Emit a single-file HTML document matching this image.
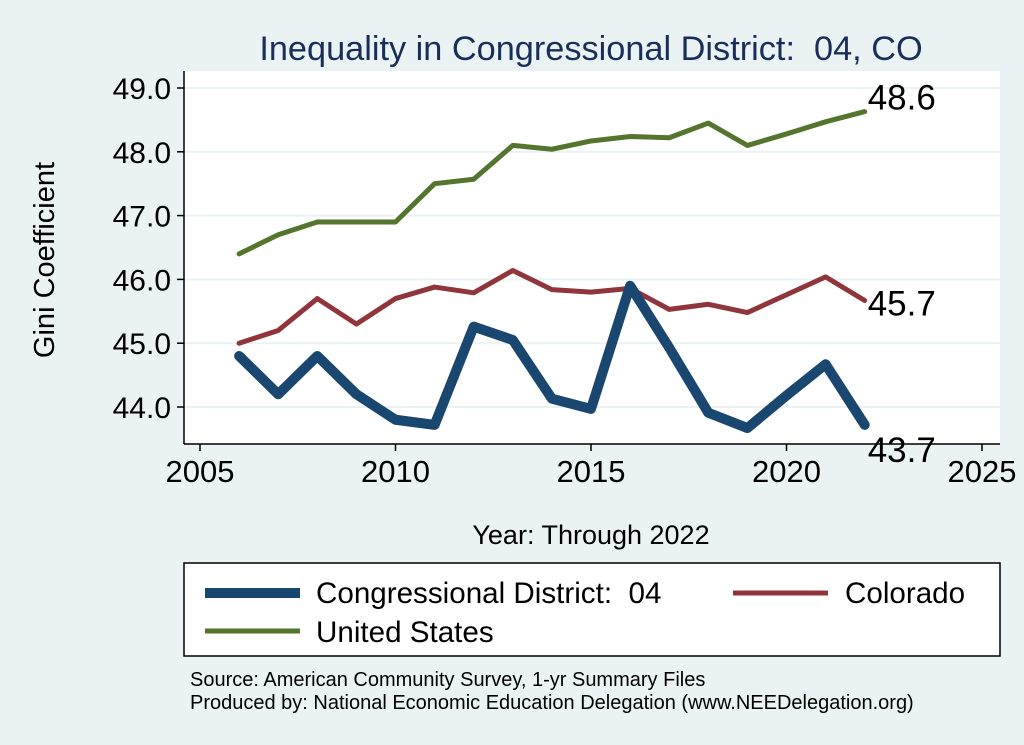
<!DOCTYPE html>
<html><head><meta charset="utf-8"><style>
body{margin:0;background:#eaf2f3;}
svg{display:block;font-family:"Liberation Sans",sans-serif;}
text{white-space:pre;}
</style></head><body>
<svg id="chart" width="1024" height="745" viewBox="0 0 1024 745">
<rect x="0" y="0" width="1024" height="745" fill="#eaf2f3"/>
<rect x="184" y="71" width="816" height="373" fill="#ffffff"/>
<text x="591" y="60" font-size="34.3" fill="#1a2e5a" text-anchor="middle">Inequality in Congressional District:  04, CO</text>
<g id="grid"></g><g id="axes"></g><g id="series"></g>
<text x="54" y="260" font-size="29" text-anchor="middle" transform="rotate(-90 54 260)">Gini Coefficient</text>
<text x="591" y="544" font-size="27" text-anchor="middle">Year: Through 2022</text>
<g>
<rect x="184" y="563" width="816" height="93" fill="#fff" stroke="#000" stroke-width="1.5"/>
<line x1="205" y1="593" x2="300" y2="593" stroke="#1a476f" stroke-width="10"/>
<text x="316" y="603" font-size="29.6">Congressional District:  04</text>
<line x1="733" y1="593" x2="828" y2="593" stroke="#90353b" stroke-width="5"/>
<text x="845" y="603" font-size="29.6">Colorado</text>
<line x1="205" y1="631" x2="300" y2="631" stroke="#55752f" stroke-width="5"/>
<text x="316" y="642" font-size="29.6">United States</text>
</g>
<text x="190" y="686" font-size="20">Source: American Community Survey, 1-yr Summary Files</text>
<text x="190" y="709" font-size="20">Produced by: National Economic Education Delegation (www.NEEDelegation.org)</text>
</svg>
<script>
const years=[2006,2007,2008,2009,2010,2011,2012,2013,2014,2015,2016,2017,2018,2019,2020,2021,2022];
const usValues=[46.4,46.7,46.9,46.9,46.9,47.5,47.57,48.1,48.04,48.17,48.24,48.22,48.45,48.1,48.28,48.47,48.63];
const coValues=[45.0,45.2,45.7,45.3,45.7,45.88,45.79,46.14,45.84,45.8,45.86,45.53,45.61,45.48,45.76,46.04,45.67];
const cdValues=[44.8,44.2,44.8,44.2,43.8,43.72,45.26,45.05,44.13,43.97,45.9,44.93,43.91,43.67,44.18,44.67,43.72];
const yTicks=[44,45,46,47,48,49];
const xTicks=[2005,2010,2015,2020,2025];
const NS="http://www.w3.org/2000/svg";
const xs=v=>200+(v-2005)*39.1;
const ys=v=>407-(v-44)*63.8;
function mk(tag,attrs,parent,txt){const e=document.createElementNS(NS,tag);for(const k in attrs)e.setAttribute(k,attrs[k]);if(txt!==undefined)e.textContent=txt;parent.appendChild(e);return e;}
const grid=document.getElementById('grid'),axes=document.getElementById('axes'),ser=document.getElementById('series');
yTicks.forEach(t=>{
 const g=mk('line',{x1:184,x2:1000,y1:ys(t),y2:ys(t),stroke:'#eaf2f3','stroke-width':2},grid);
 
 
 const tk=mk('line',{x1:177,x2:184,y1:ys(t),y2:ys(t),stroke:'#000','stroke-width':1.5},axes);
 
 
 const lb=mk('text',{x:171,y:ys(t)+11,'font-size':30,'text-anchor':'end'},axes,t.toFixed(1));
 
 
});
xTicks.forEach(t=>{
 const tk=mk('line',{x1:xs(t),x2:xs(t),y1:444,y2:451,stroke:'#000','stroke-width':1.5},axes);
 
 
 const lb=mk('text',{x:xs(t),y:482,'font-size':31,'text-anchor':'middle'},axes,t);
 
 
});
const ya=mk('line',{x1:184,x2:184,y1:71,y2:444,stroke:'#000','stroke-width':1.5},axes);


const xa=mk('line',{x1:184,x2:1000,y1:444,y2:444,stroke:'#000','stroke-width':1.5},axes);


function line(vals,color,w,name,lblDy){
 const p=mk('polyline',{points:vals.map((v,i)=>xs(years[i])+','+ys(v)).join(' '),fill:'none',stroke:color,'stroke-width':w,'stroke-linejoin':'round','stroke-linecap':'round'},ser);
 
 
 const last=vals[vals.length-1];
 const t=mk('text',{x:xs(years[years.length-1])+3,y:ys(last)+lblDy,'font-size':35},ser,last.toFixed(1));
 
 
}
line(usValues,'#55752f',5,'us-line',-2);
line(coValues,'#90353b',5,'colorado-line',15);
line(cdValues,'#1a476f',10,'district-line',37);
</script>
</body></html>
